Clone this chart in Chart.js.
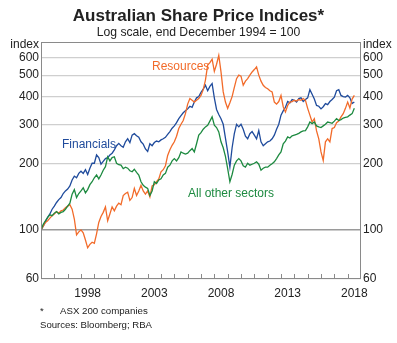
<!DOCTYPE html>
<html>
<head>
<meta charset="utf-8">
<script src="https://cdn.jsdelivr.net/npm/chart.js@4.4.0/dist/chart.umd.min.js"></script>
<style>
  body { margin: 0; background: #fff; }
  #wrap { position: relative; width: 397px; height: 343px; font-family: Arial, "Liberation Sans", sans-serif; color: #222; }
  #wrap canvas { position: absolute; left: 0; top: 0; }
  .t { position: absolute; white-space: nowrap; line-height: 1; }
</style>
</head>
<body>
<div id="wrap">
  <canvas id="chart" width="397" height="343"></canvas>
  <div class="t" style="left:0;width:397px;top:7px;text-align:center;font-size:17px;font-weight:bold">Australian Share Price Indices*</div>
  <div class="t" style="left:0;width:397px;top:26px;text-align:center;font-size:12.2px">Log scale, end December 1994 = 100</div>
  <div class="t" style="right:358px;top:38px;font-size:12px">index</div>
  <div class="t" style="left:363px;top:38px;font-size:12px">index</div>
  <div class="t" style="left:152px;top:60px;font-size:12px;color:#f26b2a">Resources</div>
  <div class="t" style="left:62px;top:138px;font-size:12px;color:#1f4b9c">Financials</div>
  <div class="t" style="left:188px;top:187px;font-size:12px;color:#1d8a40">All other sectors</div>
  <div class="t" style="left:40px;top:306px;font-size:9.7px">*</div>
  <div class="t" style="left:60px;top:306px;font-size:9.7px">ASX 200 companies</div>
  <div class="t" style="left:40px;top:320px;font-size:9.6px">Sources: Bloomberg; RBA</div>
</div>
<script>
// bimonthly readings, first value is end December 1994
const startYear = 1995;
const periodsPerYear = 6;

const financials = [
  100, 104, 109, 114, 118, 124,
  128, 133, 137, 140, 146, 150,
  153, 158, 168, 175, 172, 180,
  184, 180, 187, 178, 190, 200,
  200, 218, 212, 198, 204, 210,
  212, 218, 222, 230, 240, 246,
  240, 236, 250, 258, 248, 268,
  272, 266, 262, 250, 244, 232,
  226, 245, 240, 248, 252, 250,
  255, 258, 262, 270, 278, 288,
  295, 305, 318, 328, 338, 345,
  352, 362, 358, 378, 395, 400,
  418, 432, 450, 425, 445, 458,
  395, 350, 332, 318, 300, 260,
  225, 192, 235, 272, 300, 292,
  300, 285, 265, 258, 272, 278,
  268, 258, 281, 250, 240, 245,
  250, 252, 258, 268, 285, 300,
  330, 345, 358, 380, 375, 388,
  385, 378, 392, 395, 380, 388,
  395, 430, 410, 390, 365, 362,
  352, 360, 372, 368, 380, 388,
  398, 425, 430, 405, 400, 398,
  405, 395, 372, 378
];

const resources = [
  100, 104, 108, 110, 113, 116,
  118, 121, 119, 122, 123, 126,
  128, 130, 124, 112, 95, 98,
  100, 97, 90, 83, 86, 88,
  87, 96, 108, 115, 120, 127,
  110, 118, 127, 122, 128, 132,
  130, 143, 146, 148, 136, 140,
  154, 143, 150, 159, 150, 145,
  150, 141, 158, 160, 165, 170,
  183, 187, 195, 217, 230, 241,
  250, 265, 287, 300, 312, 335,
  370, 392, 385, 378, 385, 392,
  405, 430, 475, 555, 570, 590,
  520, 560, 614, 517, 420, 378,
  354, 375, 400, 440, 482, 500,
  495, 450, 470, 482, 500, 517,
  530, 545, 500, 470, 450, 440,
  434, 425, 420, 378, 370, 380,
  405, 360, 341, 365, 378, 380,
  385, 382, 388, 385, 392, 385,
  354, 330, 307, 318, 280, 258,
  225, 206, 250, 258, 250, 287,
  290, 305, 310, 324, 335, 354,
  378, 355, 390, 405
];

const otherSectors = [
  100, 106, 110, 114, 117, 116,
  119, 121, 118, 120, 121, 124,
  128, 132, 145, 152, 140, 146,
  150, 155, 147, 152, 160, 165,
  172, 177, 170, 177, 186, 193,
  214, 205, 212, 214, 200, 197,
  196, 189, 192, 190, 185, 183,
  188, 182, 177, 165, 159, 156,
  154, 143, 150, 165, 162, 168,
  170, 177, 180, 192, 196, 205,
  210, 205, 212, 225, 222, 220,
  222, 228, 233, 225, 245, 268,
  275, 285, 292, 297, 310, 324,
  297, 290, 277, 250, 235, 215,
  189, 165, 178, 196, 205, 210,
  205, 195, 192, 200, 196, 198,
  200, 203, 198, 186, 190, 192,
  192, 196, 199, 203, 210, 218,
  225, 245, 252, 263, 260, 266,
  268, 270, 273, 277, 280, 281,
  292, 307, 302, 307, 295, 292,
  290, 295, 300, 307, 305, 303,
  310, 318, 312, 315, 320, 322,
  324, 330, 335, 354
];

const yTicks = [60, 100, 200, 300, 400, 500, 600];
const xLabelYears = [1998, 2003, 2008, 2013, 2018];
const xTickYears = [1996, 1997, 1998, 1999, 2000, 2001, 2002, 2003, 2004, 2005, 2006,
  2007, 2008, 2009, 2010, 2011, 2012, 2013, 2014, 2015, 2016, 2017, 2018];

const BLUE = "#1f4b9c";
const ORANGE = "#f26b2a";
const GREEN = "#1d8a40";

function toPoints(values) {
  return values.map(function (v, i) {
    return { x: startYear + i / periodsPerYear, y: v };
  });
}

function series(values, color) {
  return {
    data: toPoints(values),
    borderColor: color,
    borderWidth: 1.3,
    pointRadius: 0,
    tension: 0,
    fill: false
  };
}

// frame round the plot and small year ticks pointing inwards
const framePlugin = {
  id: "frame",
  afterDraw: function (chart) {
    var ctx = chart.ctx, a = chart.chartArea, x = chart.scales.x;
    ctx.save();
    ctx.strokeStyle = "#8a8a8a";
    ctx.lineWidth = 1;
    ctx.strokeRect(a.left + 0.5, a.top + 0.5, a.right - a.left - 1, a.bottom - a.top - 1);
    ctx.beginPath();
    xTickYears.forEach(function (yr) {
      var px = Math.round(x.getPixelForValue(yr)) + 0.5;
      ctx.moveTo(px, a.bottom);
      ctx.lineTo(px, a.bottom - 5);
    });
    ctx.stroke();
    ctx.restore();
  }
};

function yAxis(position, width) {
  return {
    type: "logarithmic",
    position: position,
    min: 60,
    max: 706,
    afterBuildTicks: function (axis) {
      axis.ticks = yTicks.map(function (v) { return { value: v }; });
    },
    afterFit: function (axis) { axis.width = width; },
    border: { display: false },
    grid: {
      display: position === "left",
      drawTicks: false,
      color: function (c) { return c.tick && c.tick.value === 100 ? "#9a9a9a" : "#cfcfcf"; },
      lineWidth: function (c) { return c.tick && c.tick.value === 100 ? 1.6 : 1.2; }
    },
    ticks: {
      callback: function (v) { return String(v); },
      color: "#222",
      padding: 2,
      font: { size: 12, family: "Arial, 'Liberation Sans', sans-serif" }
    }
  };
}

new Chart(document.getElementById("chart"), {
  type: "line",
  data: {
    datasets: [
      series(otherSectors, GREEN),
      series(resources, ORANGE),
      series(financials, BLUE)
    ]
  },
  options: {
    responsive: false,
    animation: false,
    layout: { padding: { top: 42, left: 0, right: 0, bottom: 0 } },
    plugins: { legend: { display: false }, tooltip: { enabled: false } },
    scales: {
      x: {
        type: "linear",
        min: 1995,
        max: 2019,
        afterBuildTicks: function (axis) {
          axis.ticks = xLabelYears.map(function (y) { return { value: y + 0.5 }; });
        },
        afterFit: function (axis) { axis.height = 64; },
        border: { display: false },
        grid: { display: false, drawTicks: false },
        ticks: {
          callback: function (v) { return String(Math.floor(v)); },
          autoSkip: false,
          maxRotation: 0,
          color: "#222",
          padding: 7,
          font: { size: 12, family: "Arial, 'Liberation Sans', sans-serif" }
        }
      },
      y: yAxis("left", 41),
      y2: yAxis("right", 36)
    }
  },
  plugins: [framePlugin]
});
</script>
</body>
</html>
